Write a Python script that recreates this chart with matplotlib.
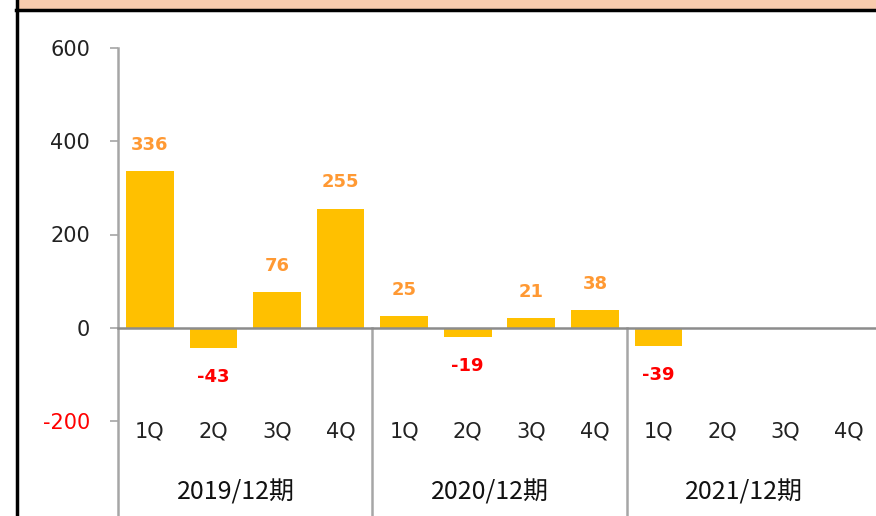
import matplotlib.pyplot as plt
from matplotlib.lines import Line2D
from matplotlib.patches import Rectangle

# data
years = ["2019/12期", "2020/12期", "2021/12期"]
quarters = ["1Q", "2Q", "3Q", "4Q"]
values = [336, -43, 76, 255, 25, -19, 21, 38, -39]
yticks = [600, 400, 200, 0, -200]

W, H = 876, 516
fig = plt.figure(figsize=(W / 100, H / 100), dpi=100)
fig.patch.set_facecolor("white")

# axes: x from px 118 to 881 (clipped at right edge), y from 600 (px 48) to -200 (px 421)
ax = fig.add_axes([118 / W, 1 - 421 / H, (881 - 118) / W, (421 - 48) / H])
ax.set_xlim(0, 12)
ax.set_ylim(-200, 600)
ax.patch.set_alpha(0)

grey = "#A6A6A6"
for s in ["top", "right", "bottom", "left"]:
    ax.spines[s].set_visible(False)

xs = [i + 0.5 for i in range(len(values))]
ax.bar(xs, values, width=0.75, color="#FFC000", zorder=2)

# zero line
ax.axhline(0, color="#8C8C8C", lw=1.8, zorder=3, clip_on=False)

# data labels
for x, v in zip(xs, values):
    if v >= 0:
        ax.annotate(str(v), (x, v), xytext=(0, 19), textcoords="offset points",
                    ha="center", va="center", color="#FF9933", fontsize=13,
                    fontweight="bold", family="DejaVu Sans")
    else:
        ax.annotate(str(v), (x, v), xytext=(0, -21), textcoords="offset points",
                    ha="center", va="center", color="#FF0000", fontsize=13,
                    fontweight="bold", family="DejaVu Sans")

# y axis
ax.set_yticks(yticks)
ax.set_yticklabels([str(t) for t in yticks], fontsize=15, family="DejaVu Sans")
for lab, t in zip(ax.get_yticklabels(), yticks):
    lab.set_color("#FF0000" if t < 0 else "#222222")
ax.tick_params(axis="y", length=6, width=1.2, color=grey, pad=14)
ax.set_xticks([])

# left spine and group separators running down to the bottom of the figure
ybot = -200 - (516 - 421) / 0.4667
ax.add_line(Line2D([0, 0], [600, ybot], color=grey, lw=1.8, clip_on=False))
for g in range(1, len(years) + 1):
    ax.add_line(Line2D([4 * g, 4 * g], [0, ybot], color=grey, lw=1.8, clip_on=False))

# category labels
for g, yr in enumerate(years):
    for q, ql in enumerate(quarters):
        ax.text(4 * g + q + 0.5, -223, ql, ha="center", va="center", fontsize=15,
                color="#222222", family="DejaVu Sans", clip_on=False)
    ax.text(4 * g + 2 - 0.15, -354, yr, ha="center", va="center", fontsize=18,
            color="#111111", family=["Noto Sans CJK JP", "DejaVu Sans"], clip_on=False)

# outer frame: peach band and black border
fig.add_artist(Rectangle((18 / W, 1 - 9 / H), 1, 9 / H, transform=fig.transFigure,
                         facecolor="#F8CBAD", edgecolor="none"))
fig.add_artist(Line2D([16 / W, 1], [1 - 10 / H, 1 - 10 / H], transform=fig.transFigure,
                      color="black", lw=2.5))
fig.add_artist(Line2D([17 / W, 17 / W], [0, 1], transform=fig.transFigure,
                      color="black", lw=2.5))

fig.savefig("out.png", dpi=100)
